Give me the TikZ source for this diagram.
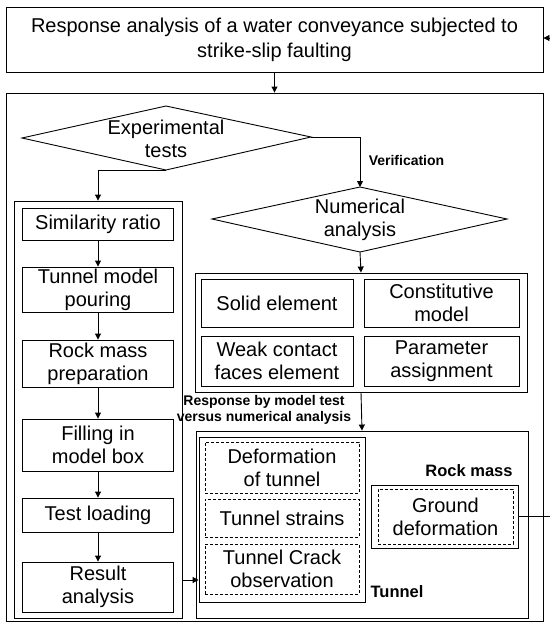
\documentclass[tikz,border=0pt]{standalone}
\usepackage{fontspec}
\setmainfont{Liberation Sans}
\usetikzlibrary{arrows.meta}
\begin{document}
\begin{tikzpicture}[x=1pt,y=-1pt,
  box/.style={draw, line width=0.9pt, inner sep=0pt, align=center, font=\fontsize{20}{23}\selectfont},
  dbox/.style={box, dash pattern=on 3pt off 2pt},
  lab/.style={font=\bfseries\fontsize{14}{16}\selectfont, align=center, inner sep=0pt},
  biglab/.style={font=\bfseries\fontsize{16.5}{19}\selectfont, inner sep=0pt},
  txt/.style={align=center, inner sep=0pt, font=\fontsize{20}{23}\selectfont},
  arr/.style={-{Triangle[width=6pt,length=6pt]}, line width=0.9pt},
  ln/.style={line width=0.9pt}]
\useasboundingbox (0,0) rectangle (550,624);
% top and outer boxes
\node[box, minimum width=537pt, minimum height=65pt, font=\fontsize{20}{25}\selectfont] (top) at (274.5,39.5) {Response analysis of a water conveyance subjected to\\strike-slip faulting};
\node[box, minimum width=537pt, minimum height=528pt] (big) at (274.5,357) {};
% experimental diamond
\coordinate (expL) at (22,138);
\coordinate (expT) at (166,106);
\coordinate (expR) at (311,137);
\coordinate (expB) at (166,170);
\draw[ln] (expL) -- (expT) -- (expR) -- (expB) -- cycle;
\node[txt] (exp) at (166,139) {Experimental\\tests};
% numerical diamond
\coordinate (numL) at (212,219);
\coordinate (numT) at (360,187);
\coordinate (numR) at (507,219);
\coordinate (numB) at (360,252);
\draw[ln] (numL) -- (numT) -- (numR) -- (numB) -- cycle;
\node[txt] (num) at (360,220) {Numerical\\analysis};
% left column
\node[box, minimum width=168pt, minimum height=417pt] (leftcol) at (98,409.5) {};
\node[box, minimum width=151pt, minimum height=32pt] (sim) at (98,224) {Similarity ratio};
\node[box, minimum width=151pt, minimum height=45pt] (tmp) at (98,289.5) {Tunnel model\\pouring};
\node[box, minimum width=151pt, minimum height=47pt] (rmp) at (98,363.5) {Rock mass\\preparation};
\node[box, minimum width=151pt, minimum height=52pt] (fill) at (98,445) {Filling in\\model box};
\node[box, minimum width=151pt, minimum height=34pt] (test) at (98,515) {Test loading};
\node[box, minimum width=151pt, minimum height=50pt] (res) at (98,587) {Result\\analysis};
% numerical group
\node[box, minimum width=332pt, minimum height=119pt] (group) at (361,332.5) {};
\node[box, minimum width=152pt, minimum height=48pt] (solid) at (277,303) {Solid element};
\node[box, minimum width=155pt, minimum height=48pt] (const) at (441.5,303) {Constitutive\\model};
\node[box, minimum width=152pt, minimum height=50pt] (weak) at (277,361) {Weak contact\\faces element};
\node[box, minimum width=155pt, minimum height=50pt] (param) at (441.5,361) {Parameter\\assignment};
% response group
\node[box, minimum width=332pt, minimum height=187pt] (tunnel) at (362,524.5) {};
\node[box, minimum width=166pt, minimum height=165pt] (tinner) at (282,519.5) {};
\node[dbox, minimum width=154pt, minimum height=51pt] (d1) at (282,467.5) {Deformation\\of tunnel};
\node[dbox, minimum width=154pt, minimum height=38pt] (d2) at (282,518) {Tunnel strains};
\node[dbox, minimum width=154pt, minimum height=50pt] (d3) at (282,569) {Tunnel Crack\\observation};
\node[box, minimum width=147pt, minimum height=63pt] (gouter) at (444.5,516.5) {};
\node[dbox, minimum width=135pt, minimum height=55pt] (gdash) at (445.5,516.5) {Ground\\deformation};
% labels
\node[lab] (ver) at (406.5,160) {Verification};
\node[lab] (resp) at (264,410) {Response by model test\\versus numerical analysis};
\node[biglab] (rock) at (469,471) {Rock mass};
\node[biglab] (tun) at (397,592) {Tunnel};
% connectors
\draw[arr] (top.south) -- (big.north);
\draw[arr] (expR) -| (numT);
\draw[arr] (expB) -| (leftcol.north);
\draw[arr] (sim) -- (tmp);
\draw[arr] (tmp) -- (rmp);
\draw[arr] (rmp) -- (fill);
\draw[arr] (fill) -- (test);
\draw[arr] (test) -- (res);
\draw[arr] (numB) -- (group.north);
\draw[arr] (group.south) -- (tunnel.north);
\coordinate (ya) at (0,580);
\draw[arr] (leftcol.east |- ya) -- (tinner.west |- ya);
\coordinate (edgeA) at (550,516.5);
\coordinate (edgeB) at (550,38);
\draw[ln] (gouter.east) -- (edgeA);
\draw[arr] (edgeB) -- (top.east |- edgeB);
\end{tikzpicture}
\end{document}
